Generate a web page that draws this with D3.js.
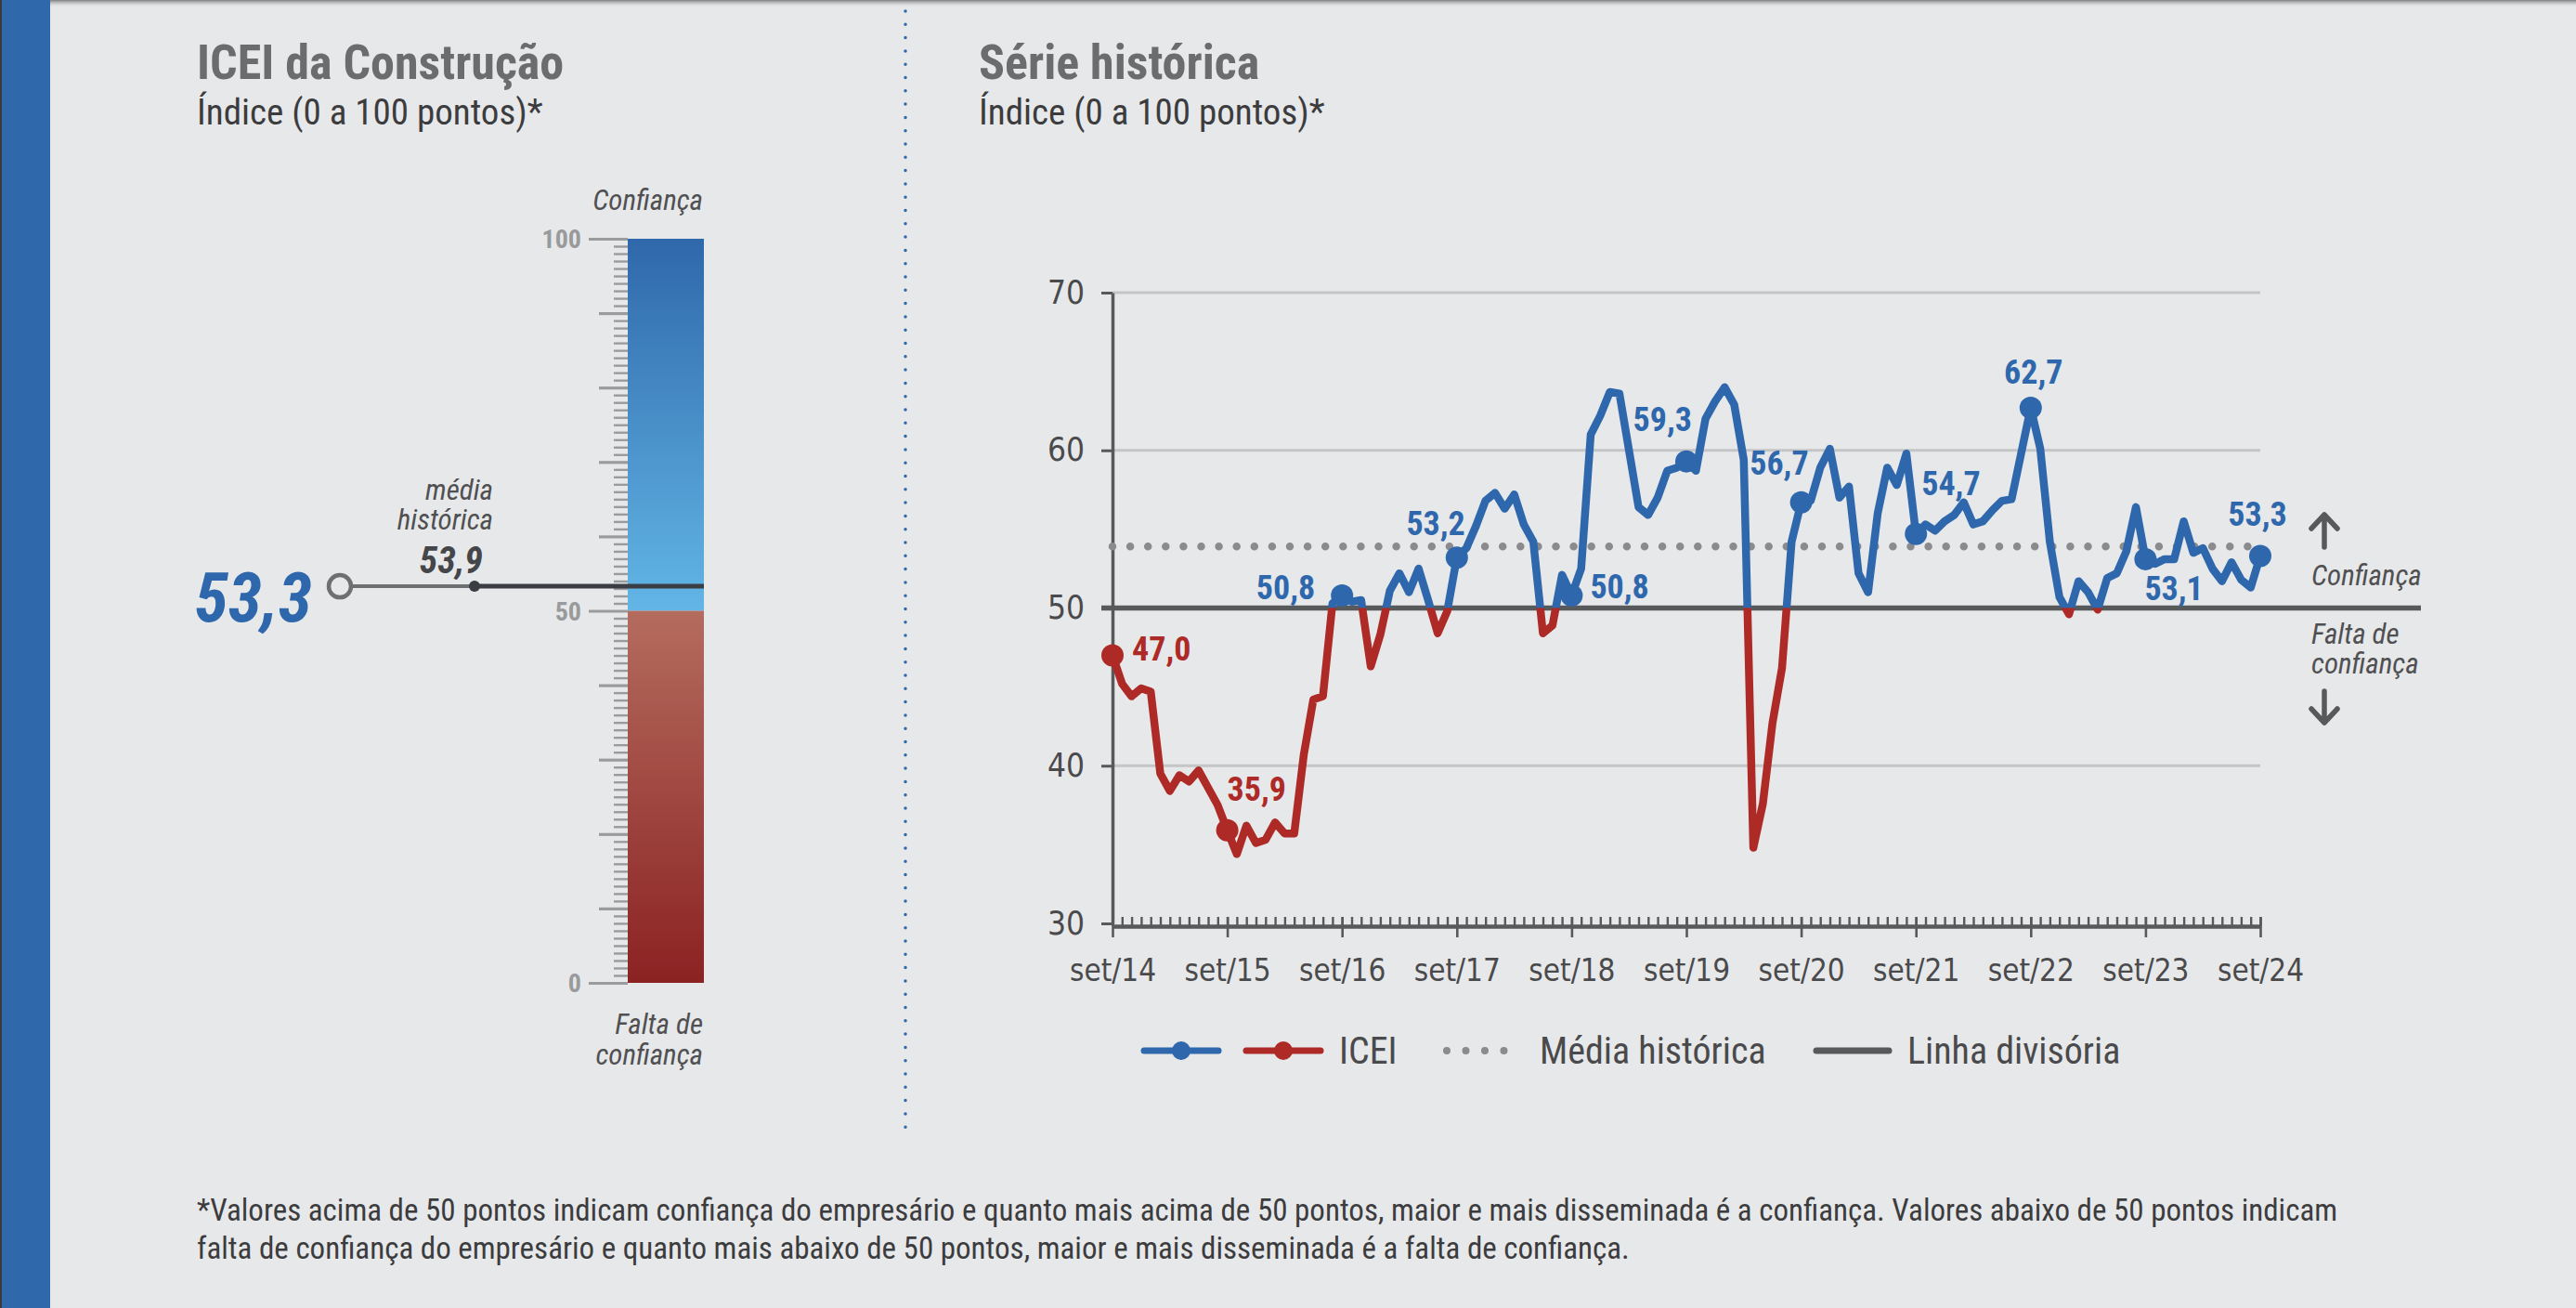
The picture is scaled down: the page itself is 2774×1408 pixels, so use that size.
<!DOCTYPE html>
<html><head><meta charset="utf-8">
<script src="https://cdn.jsdelivr.net/npm/d3@7"></script>
<style>
html,body{margin:0;padding:0;background:#e7e8ea;}
svg{display:block;}
text{font-family:"Liberation Sans Narrow","Roboto Condensed","DejaVu Sans Condensed",sans-serif;}
</style></head><body>
<svg id="c" width="2774" height="1408"></svg>
<script>
// ---------- DATA ----------
const tickLabels = ["set/14","set/15","set/16","set/17","set/18","set/19","set/20","set/21","set/22","set/23","set/24"];
const icei = [
 47.0,45.2,44.4,44.9,44.7,39.5,38.4,39.4,39.0,39.7,38.6,37.5,
 35.9,34.4,36.2,35.1,35.3,36.4,35.7,35.7,40.7,44.2,44.4,50.3,
 50.8,50.4,50.5,46.3,48.3,51.1,52.2,51.0,52.5,50.5,48.4,49.8,
 53.2,53.8,55.2,56.8,57.3,56.3,57.2,55.3,54.2,48.4,48.9,52.1,
 50.8,52.5,61.0,62.2,63.7,63.6,60.0,56.4,55.9,57.0,58.7,58.9,
 59.3,58.7,62.0,63.1,64.0,62.9,59.4,34.8,37.6,42.7,46.2,54.2,
 56.7,56.8,58.9,60.1,57.0,57.7,52.2,51.0,56.0,58.9,57.8,59.8,
 54.7,55.3,54.9,55.5,55.9,56.7,55.3,55.5,56.2,56.8,56.9,59.8,
 62.7,60.1,54.2,50.7,49.6,51.7,51.0,49.9,51.9,52.2,53.6,56.4,
 53.1,52.8,53.1,53.1,55.5,53.5,53.8,52.5,51.7,52.9,51.8,51.3,
 53.3
];
const highlighted = [0,12,24,36,48,60,72,84,96,108,120];
const yTicks = [30,40,50,60,70];
const thermoLabels = [0,50,100];
const historicalMean = 53.9;
const currentValue = 53.3;
const dividingLine = 50;
const legendLabels = ["ICEI","Média histórica","Linha divisória"];
const footnote = [
 "*Valores acima de 50 pontos indicam confiança do empresário e quanto mais acima de 50 pontos, maior e mais disseminada é a confiança. Valores abaixo de 50 pontos indicam",
 "falta de confiança do empresário e quanto mais abaixo de 50 pontos, maior e mais disseminada é a falta de confiança."
];

// ---------- STYLE / LAYOUT ----------
const BLUE = "#2e67ac", RED = "#ae2a26", DARK = "#58595b", GRID = "#c4c5c7", TXT = "#4a4a4c";
const fmt = v => v.toFixed(1).replace(".", ",");
const labelPos = {
  0:{dx:21,dy:6,a:"start"}, 12:{dx:0,dy:-32,a:"start"}, 24:{dx:-29,dy:4,a:"end"},
  36:{dx:9,dy:-24,a:"end"}, 48:{dx:20,dy:3,a:"start"}, 60:{dx:6,dy:-33,a:"end"},
  72:{dx:8,dy:-30,a:"end"}, 84:{dx:6,dy:-42,a:"start"}, 96:{dx:3,dy:-26,a:"middle"},
  108:{dx:-1,dy:44,a:"start"}, 120:{dx:-3,dy:-32,a:"middle"}
};

const svg = d3.select("#c");
const defs = svg.append("defs");

// background
svg.append("rect").attr("width",2774).attr("height",1408).attr("fill","#e7e8ea");
const sh = defs.append("linearGradient").attr("id","topShadow").attr("x1",0).attr("y1",0).attr("x2",0).attr("y2",1);
sh.append("stop").attr("offset",0).attr("stop-color","#7d7e80");
sh.append("stop").attr("offset",1).attr("stop-color","#e7e8ea").attr("stop-opacity",0);
svg.append("rect").attr("x",0).attr("y",0).attr("width",2774).attr("height",8).attr("fill","url(#topShadow)");
svg.append("rect").attr("x",0).attr("y",0).attr("width",54).attr("height",1408).attr("fill","#2f68ab");
svg.append("rect").attr("x",0).attr("y",0).attr("width",2).attr("height",1408).attr("fill","#3a3a3c");

// separator
svg.append("line").attr("x1",975).attr("x2",975).attr("y1",12).attr("y2",1226)
  .attr("stroke","#2f68ab").attr("stroke-width",3.5).attr("stroke-linecap","round")
  .attr("stroke-dasharray","0,14.3");

// ---------- LEFT PANEL ----------
const titles = [{x:212,t:"ICEI da Construção"},{x:1054,t:"Série histórica"}];
titles.forEach(d=>{
  svg.append("text").attr("x",d.x).attr("y",85).attr("font-size",52).attr("font-weight","bold")
    .attr("fill","#6b6c6e").text(d.t);
  svg.append("text").attr("x",d.x).attr("y",134).attr("font-size",39).attr("fill","#3c3c3e")
    .text("Índice (0 a 100 pontos)*");
});

const tY = d3.scaleLinear().domain([0,100]).range([1058,257]);
const barX = 676, barW = 82;
const gB = defs.append("linearGradient").attr("id","gBlue").attr("gradientUnits","userSpaceOnUse")
  .attr("x1",0).attr("x2",0).attr("y1",tY(100)).attr("y2",tY(50));
gB.append("stop").attr("offset",0).attr("stop-color","#2f68ab");
gB.append("stop").attr("offset",1).attr("stop-color","#62b6e6");
const gR = defs.append("linearGradient").attr("id","gRed").attr("gradientUnits","userSpaceOnUse")
  .attr("x1",0).attr("x2",0).attr("y1",tY(50)).attr("y2",tY(0));
gR.append("stop").attr("offset",0).attr("stop-color","#b46c5e");
gR.append("stop").attr("offset",1).attr("stop-color","#8b2222");
svg.append("rect").attr("x",barX).attr("y",tY(100)).attr("width",barW).attr("height",tY(50)-tY(100)).attr("fill","url(#gBlue)");
svg.append("rect").attr("x",barX).attr("y",tY(50)).attr("width",barW).attr("height",tY(0)-tY(50)).attr("fill","url(#gRed)");

const tAxis = d3.axisLeft(tY).tickValues(d3.range(0,101,1)).tickFormat("").tickSizeOuter(0)
  .tickSize(15);
const tg = svg.append("g").attr("transform",`translate(${barX},0)`).call(tAxis);
tg.select(".domain").remove();
tg.selectAll(".tick line").attr("stroke","#9a9b9d")
  .attr("x2", d => d%50===0 ? -42 : (d%10===0 ? -31 : -15))
  .attr("stroke-width", d => d%10===0 ? 3.2 : 2.4);
svg.selectAll(".tlab").data(thermoLabels).enter().append("text")
  .attr("x",626).attr("y",d=>tY(d)+10).attr("text-anchor","end").attr("font-size",28)
  .attr("font-weight","bold").attr("fill","#999a9c").text(d=>d);

svg.append("text").attr("x",757).attr("y",226).attr("text-anchor","end").attr("font-size",31)
  .attr("font-style","italic").attr("fill","#505052").text("Confiança");
svg.append("text").attr("x",757).attr("y",1113).attr("text-anchor","end").attr("font-size",31)
  .attr("font-style","italic").attr("fill","#505052").text("Falta de");
svg.append("text").attr("x",757).attr("y",1146).attr("text-anchor","end").attr("font-size",31)
  .attr("font-style","italic").attr("fill","#505052").text("confiança");

const cy = tY(currentValue);
svg.append("line").attr("x1",378).attr("x2",barX+barW).attr("y1",cy).attr("y2",cy)
  .attr("stroke","#6e6f71").attr("stroke-width",4);
svg.append("line").attr("x1",511).attr("x2",barX+barW).attr("y1",cy).attr("y2",cy)
  .attr("stroke","#3a3d43").attr("stroke-width",5);
svg.append("circle").attr("cx",511).attr("cy",cy).attr("r",6).attr("fill","#3a3d43");
svg.append("circle").attr("cx",366).attr("cy",cy).attr("r",12).attr("fill","#e7e8ea")
  .attr("stroke","#6e6f71").attr("stroke-width",4.5);
svg.append("text").attr("x",336).attr("y",cy+38).attr("text-anchor","end").attr("font-size",74)
  .attr("font-weight","bold").attr("font-style","italic").attr("fill",BLUE).text(fmt(currentValue));
svg.append("text").attr("x",531).attr("y",538).attr("text-anchor","end").attr("font-size",31)
  .attr("font-style","italic").attr("fill","#505052").text("média");
svg.append("text").attr("x",531).attr("y",570).attr("text-anchor","end").attr("font-size",31)
  .attr("font-style","italic").attr("fill","#505052").text("histórica");
svg.append("text").attr("x",520).attr("y",617).attr("text-anchor","end").attr("font-size",40)
  .attr("font-weight","bold").attr("font-style","italic").attr("fill","#45464a").text(fmt(historicalMean));

// ---------- RIGHT PANEL ----------
const x = d3.scaleLinear().domain([0, icei.length-1]).range([1198, 2434]);
const y = d3.scaleLinear().domain([30,70]).range([994, 315]);

// gridlines
svg.selectAll(".grid").data(yTicks.filter(d=>d!==30 && d!==dividingLine)).enter().append("line")
  .attr("x1",1198).attr("x2",2434).attr("y1",d=>y(d)).attr("y2",d=>y(d))
  .attr("stroke",GRID).attr("stroke-width",3);

// y axis
const yAxis = d3.axisLeft(y).tickValues(yTicks).tickSize(12).tickSizeOuter(0).tickPadding(18);
const yg = svg.append("g").attr("transform","translate(1198,0)").call(yAxis);
yg.select(".domain").attr("stroke",DARK).attr("stroke-width",3.5);
yg.selectAll(".tick line").attr("stroke",DARK).attr("stroke-width",3);
yg.selectAll(".tick text").attr("font-size",35).attr("fill",TXT)
  .style("font-family",'"Liberation Sans Narrow","DejaVu Sans Condensed",sans-serif');

// x axis: minor monthly ticks (up) + major yearly (down)
const xg = svg.append("g").attr("transform",`translate(0,${y(30)+3})`);
const xMinor = d3.axisTop(x).tickValues(d3.range(0,icei.length)).tickFormat("").tickSize(10).tickSizeOuter(0);
xg.call(xMinor);
xg.select(".domain").attr("stroke",DARK).attr("stroke-width",4.5);
xg.selectAll(".tick line").attr("stroke",DARK).attr("stroke-width",2.4);
const xMajor = d3.axisBottom(x).tickValues(tickLabels.map((d,i)=>i*12)).tickFormat((d,i)=>tickLabels[i])
  .tickSize(12).tickSizeOuter(0).tickPadding(24);
const xg2 = svg.append("g").attr("transform",`translate(0,${y(30)+3})`).call(xMajor);
xg2.select(".domain").remove();
xg2.selectAll(".tick line").attr("stroke",DARK).attr("stroke-width",2.6).attr("y1",-10);
xg2.selectAll(".tick text").attr("font-size",33).attr("fill",TXT)
  .style("font-family",'"Liberation Sans Narrow","DejaVu Sans Condensed",sans-serif');

// dividing line
svg.append("line").attr("x1",1186).attr("x2",2607).attr("y1",y(dividingLine)).attr("y2",y(dividingLine))
  .attr("stroke",DARK).attr("stroke-width",5.5);
// historical mean
svg.append("line").attr("x1",1198).attr("x2",2434).attr("y1",y(historicalMean)).attr("y2",y(historicalMean))
  .attr("stroke","#8b8b8d").attr("stroke-width",8.5).attr("stroke-linecap","round").attr("stroke-dasharray","0,19.1");

// ICEI line split at 50
defs.append("clipPath").attr("id","above").append("rect")
  .attr("x",0).attr("y",0).attr("width",2774).attr("height",y(dividingLine));
defs.append("clipPath").attr("id","below").append("rect")
  .attr("x",0).attr("y",y(dividingLine)).attr("width",2774).attr("height",1408-y(dividingLine));
const line = d3.line().x((d,i)=>x(i)).y(d=>y(d));
svg.append("path").datum(icei).attr("d",line).attr("fill","none").attr("stroke",BLUE)
  .attr("stroke-width",8.5).attr("stroke-linejoin","round").attr("stroke-linecap","round").attr("clip-path","url(#above)");
svg.append("path").datum(icei).attr("d",line).attr("fill","none").attr("stroke",RED)
  .attr("stroke-width",8.5).attr("stroke-linejoin","round").attr("stroke-linecap","round").attr("clip-path","url(#below)");

// markers + labels
svg.selectAll(".mk").data(highlighted).enter().append("circle")
  .attr("cx",i=>x(i)).attr("cy",i=>y(icei[i])).attr("r",12)
  .attr("fill",i=>icei[i]>=dividingLine?BLUE:RED);
svg.selectAll(".lb").data(highlighted).enter().append("text")
  .attr("x",i=>x(i)+labelPos[i].dx).attr("y",i=>y(icei[i])+labelPos[i].dy)
  .attr("text-anchor",i=>labelPos[i].a).attr("font-size",36).attr("font-weight","bold")
  .attr("fill",i=>icei[i]>=dividingLine?BLUE:RED).text(i=>fmt(icei[i]));

// right annotations
function arrow(cx, y1, y2){
  const dir = y2<y1 ? 1 : -1;
  svg.append("path").attr("d",`M${cx},${y1}L${cx},${y2}M${cx-14},${y2+dir*15}L${cx},${y2}L${cx+14},${y2+dir*15}`)
    .attr("fill","none").attr("stroke",DARK).attr("stroke-width",5.5).attr("stroke-linecap","round").attr("stroke-linejoin","round");
}
arrow(2503, 589, 554);
arrow(2503, 744, 778);
svg.append("text").attr("x",2489).attr("y",630).attr("font-size",31).attr("font-style","italic").attr("fill","#505052").text("Confiança");
svg.append("text").attr("x",2489).attr("y",693).attr("font-size",31).attr("font-style","italic").attr("fill","#505052").text("Falta de");
svg.append("text").attr("x",2489).attr("y",725).attr("font-size",31).attr("font-style","italic").attr("fill","#505052").text("confiança");

// legend
const ly = 1131;
const lg = svg.append("g");
[[1232,1312,BLUE],[1342,1422,RED]].forEach(([a,b,c])=>{
  lg.append("line").attr("x1",a).attr("x2",b).attr("y1",ly).attr("y2",ly).attr("stroke",c).attr("stroke-width",7).attr("stroke-linecap","round");
  lg.append("circle").attr("cx",(a+b)/2).attr("cy",ly).attr("r",10).attr("fill",c);
});
lg.append("line").attr("x1",1558).attr("x2",1640).attr("y1",ly).attr("y2",ly).attr("stroke","#8b8b8d")
  .attr("stroke-width",8).attr("stroke-linecap","round").attr("stroke-dasharray","0,20.5");
lg.append("line").attr("x1",1956).attr("x2",2034).attr("y1",ly).attr("y2",ly).attr("stroke",DARK)
  .attr("stroke-width",7).attr("stroke-linecap","round");
[[1442,legendLabels[0]],[1658,legendLabels[1]],[2054,legendLabels[2]]].forEach(([lx,t])=>{
  lg.append("text").attr("x",lx).attr("y",ly+14).attr("font-size",40).attr("fill",TXT).text(t);
});

// footnote
footnote.forEach((t,i)=>{
  svg.append("text").attr("x",212).attr("y",1314+i*41).attr("font-size",33).attr("fill","#3c3c3e").text(t);
});
</script>
</body></html>
